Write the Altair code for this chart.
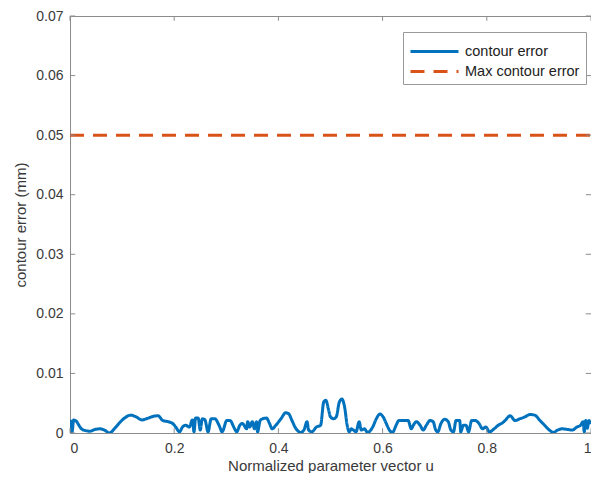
import altair as alt
import pandas as pd

# ---- data ----
u = [0.000, 0.002, 0.004, 0.007, 0.010, 0.013, 0.017, 0.022, 0.030, 0.038,
     0.048, 0.058, 0.066, 0.076, 0.086, 0.096, 0.106, 0.117, 0.127, 0.138,
     0.150, 0.160, 0.169, 0.178, 0.188, 0.197, 0.203, 0.210, 0.216, 0.222,
     0.229, 0.235, 0.238, 0.241, 0.246, 0.250, 0.254, 0.259, 0.265, 0.271,
     0.278, 0.286, 0.292, 0.301, 0.307, 0.316, 0.320, 0.326, 0.331, 0.339,
     0.341, 0.345, 0.350, 0.354, 0.358, 0.360, 0.365, 0.370, 0.377, 0.383,
     0.388, 0.395, 0.405, 0.414, 0.420, 0.426, 0.434, 0.443, 0.449, 0.455,
     0.458, 0.464, 0.473, 0.481, 0.487, 0.491, 0.496, 0.500, 0.506, 0.511,
     0.517, 0.522, 0.527, 0.532, 0.536, 0.540, 0.544, 0.549, 0.555, 0.559,
     0.565, 0.571, 0.581, 0.588, 0.595, 0.601, 0.607, 0.613, 0.619, 0.626,
     0.631, 0.640, 0.649, 0.655, 0.659, 0.665, 0.672, 0.678, 0.684, 0.691,
     0.697, 0.702, 0.706, 0.712, 0.719, 0.726, 0.731, 0.736, 0.741, 0.748,
     0.750, 0.755, 0.760, 0.765, 0.771, 0.778, 0.785, 0.792, 0.798, 0.805,
     0.814, 0.822, 0.830, 0.835, 0.845, 0.854, 0.864, 0.873, 0.883, 0.892,
     0.902, 0.911, 0.920, 0.928, 0.936, 0.945, 0.955, 0.964, 0.973, 0.980,
     0.985, 0.987, 0.990, 0.993, 0.996, 1.000]
err = [0.0008, 0.0020, 0.0002, 0.0022, 0.0021, 0.0019, 0.0013, 0.0007, 0.0004, 0.0003,
       0.0006, 0.0007, 0.0005, 0.0000, 0.0008, 0.0018, 0.0026, 0.0030, 0.0027, 0.0022,
       0.0025, 0.0028, 0.0029, 0.0021, 0.0019, 0.0016, 0.0010, 0.0002, 0.0010, 0.0013,
       0.0010, 0.0022, 0.0002, 0.0025, 0.0025, 0.0005, 0.0024, 0.0022, 0.0002, 0.0024,
       0.0024, 0.0013, 0.0002, 0.0021, 0.0021, 0.0007, 0.0002, 0.0013, 0.0016, 0.0007,
       0.0019, 0.0010, 0.0019, 0.0007, 0.0019, 0.0002, 0.0021, 0.0024, 0.0025, 0.0016,
       0.0007, 0.0013, 0.0024, 0.0034, 0.0032, 0.0021, 0.0007, 0.0001, 0.0005, 0.0019,
       0.0005, 0.0002, 0.0010, 0.0013, 0.0052, 0.0055, 0.0040, 0.0027, 0.0024, 0.0027,
       0.0052, 0.0057, 0.0044, 0.0013, 0.0002, 0.0007, 0.0005, 0.0002, 0.0019, 0.0005,
       0.0007, 0.0001, 0.0010, 0.0024, 0.0032, 0.0027, 0.0016, 0.0005, 0.0001, 0.0013,
       0.0021, 0.0021, 0.0021, 0.0007, 0.0013, 0.0019, 0.0013, 0.0005, 0.0013, 0.0021,
       0.0019, 0.0005, 0.0002, 0.0016, 0.0023, 0.0019, 0.0005, 0.0002, 0.0021, 0.0021,
       0.0002, 0.0013, 0.0013, 0.0002, 0.0021, 0.0021, 0.0016, 0.0007, 0.0010, 0.0002,
       0.0007, 0.0013, 0.0017, 0.0021, 0.0029, 0.0021, 0.0024, 0.0027, 0.0031, 0.0030,
       0.0021, 0.0013, 0.0005, 0.0001, 0.0005, 0.0007, 0.0006, 0.0005, 0.0010, 0.0013,
       0.0019, 0.0002, 0.0021, 0.0008, 0.0021, 0.0015]
max_u = [0.0, 1.0]
max_err = [0.05, 0.05]
series = ["contour error", "Max contour error"]
colors = ["#0072BD", "#D95319"]
x_ticks = [0, 0.2, 0.4, 0.6, 0.8, 1]
y_ticks = [0, 0.01, 0.02, 0.03, 0.04, 0.05, 0.06, 0.07]
x_title = "Normalized parameter vector u"
y_title = "contour error (mm)"

df = pd.DataFrame({
    "u": u + max_u,
    "err": err + max_err,
    "series": [series[0]] * len(u) + [series[1]] * len(max_u),
})

FONT = "Liberation Sans"
AXIS_GRAY = "#8c8c8c"
TEXT = "#3a3a3a"

xs = alt.Scale(domain=[0, 1], nice=False, zero=False)
ys = alt.Scale(domain=[0, 0.07], nice=False)
xaxis = alt.Axis(values=x_ticks, format="~g", title=x_title)
yaxis = alt.Axis(values=y_ticks, format="~g", title=y_title)

legend = alt.Legend(
    title=None, orient="none", legendX=333, legendY=16,
    symbolType="M-1,0H3", symbolSize=576, symbolStrokeWidth=3,
    labelFontSize=14.5, labelFont=FONT, labelColor="#222",
    strokeColor="#999", fillColor="white", padding=6, rowPadding=0,
    labelOffset=29,
)

lines = alt.Chart(df).mark_line(strokeWidth=3, clip=True, interpolate="monotone").encode(
    x=alt.X("u:Q", scale=xs, axis=xaxis, title=x_title),
    y=alt.Y("err:Q", scale=ys, axis=yaxis, title=y_title),
    color=alt.Color("series:N", scale=alt.Scale(domain=series, range=colors), legend=legend),
    strokeDash=alt.StrokeDash("series:N",
                              scale=alt.Scale(domain=series, range=[[1, 0], [14, 9]]),
                              legend=legend),
)

# inward tick marks (MATLAB style) on all four sides, in data units
ytk = pd.DataFrame({"y": y_ticks, "a": [0] * len(y_ticks), "b": [0.01] * len(y_ticks),
                    "c": [1] * len(y_ticks), "d": [0.99] * len(y_ticks)})
xtk = pd.DataFrame({"x": x_ticks, "a": [0] * len(x_ticks), "b": [0.0008] * len(x_ticks),
                    "c": [0.07] * len(x_ticks), "d": [0.0692] * len(x_ticks)})

tick_style = dict(color=AXIS_GRAY, strokeWidth=1)


def X(f):
    return alt.X(f, scale=xs, axis=xaxis, title=x_title)


def Y(f):
    return alt.Y(f, scale=ys, axis=yaxis, title=y_title)


left_t = alt.Chart(ytk).mark_rule(**tick_style).encode(y=Y("y:Q"), x=X("a:Q"), x2="b:Q")
right_t = alt.Chart(ytk).mark_rule(**tick_style).encode(y=Y("y:Q"), x=X("c:Q"), x2="d:Q")
bot_t = alt.Chart(xtk).mark_rule(**tick_style).encode(x=X("x:Q"), y=Y("a:Q"), y2="b:Q")
top_t = alt.Chart(xtk).mark_rule(**tick_style).encode(x=X("x:Q"), y=Y("c:Q"), y2="d:Q")

chart = alt.layer(lines, left_t, right_t, bot_t, top_t).properties(
    width=521, height=417,
    autosize=alt.AutoSizeParams(type="none"),
    padding={"left": 62, "top": 8, "right": 0, "bottom": 40},
).configure_view(
    stroke=AXIS_GRAY, strokeWidth=1
).configure_axis(
    grid=False, ticks=False, domainColor=AXIS_GRAY, domainWidth=1,
    labelFont=FONT, labelFontSize=14, labelColor=TEXT,
    titleFont=FONT, titleFontSize=15, titleColor=TEXT, titleFontWeight="normal",
).configure_axisX(
    labelPadding=8, titlePadding=3,
).configure_axisY(
    labelPadding=7, titlePadding=7,
)

chart.save("out.html", embed_options={"renderer": "svg", "actions": False})
